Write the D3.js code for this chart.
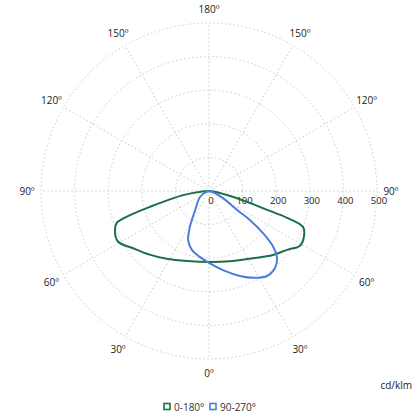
<!DOCTYPE html>
<html><head><meta charset="utf-8">
<script src="https://cdn.jsdelivr.net/npm/d3@7"></script>
<style>body{margin:0;background:#fff;}svg{display:block;font-family:"Open Sans",sans-serif;}</style>
</head><body>
<script>
// Data (signed gamma angle in degrees from nadir; negative = left half), intensity cd/klm
const radialTicks = [0, 100, 200, 300, 400, 500];
const angleTicks = [0, 30, 60, 90, 120, 150, 180];
const seriesNames = ["0-180°", "90-270°"];
const seriesColors = ["#1e6e45", "#4a7de0"];
const greenAngles = [-90, -86, -81, -75, -73, -71, -67.5, -61, -53, -43, -32, -17, 0, 19, 33, 45, 53, 59, 64, 69, 71, 72, 74, 77.5, 84, 90];
const greenValues = [0, 20, 78, 182, 246, 290, 303, 310, 283, 259, 238, 218, 211, 220, 239, 269, 291, 316, 314, 300, 246, 182, 118, 55, 12, 0];
const blueAngles = [-90, -80, -56, -36, -28, -23, -16, -8, 0, 10, 20, 27, 34, 40.5, 45.5, 49, 52, 54.7, 56, 63, 75, 90];
const blueValues = [0, 5, 32, 70, 121, 159, 183, 198, 214, 239, 269, 290, 306, 302, 284, 253, 204, 149, 101, 47, 10, 0];

const W = 420, H = 420, cx = 209, cy = 191, R = 168;
const svg = d3.select("body").append("svg").attr("width", W).attr("height", H);
const r = d3.scaleLinear().domain([0, 500]).range([0, R]);
const g = svg.append("g").attr("transform", `translate(${cx},${cy})`);

const gridColor = "#c8c8c8";
// circles
g.selectAll("circle.grid").data(radialTicks.filter(d => d > 0)).join("circle")
  .attr("r", d => r(d)).attr("fill", "none").attr("stroke", gridColor)
  .attr("stroke-width", 1).attr("stroke-dasharray", "1.5,2.5");
// spokes
const spokes = d3.range(0, 360, 30);
g.selectAll("line.spoke").data(spokes).join("line")
  .attr("x1", 0).attr("y1", 0)
  .attr("x2", d => r(500) * Math.sin(d * Math.PI / 180))
  .attr("y2", d => r(500) * Math.cos(d * Math.PI / 180))
  .attr("stroke", gridColor).attr("stroke-width", 1).attr("stroke-dasharray", "1.5,2.5");

// angle labels
const lab = [];
angleTicks.forEach(a => { lab.push(a); if (a > 0 && a < 180) lab.push(-a); });
const lr = 182;
g.selectAll("text.ang").data(lab).join("text")
  .attr("x", d => lr * Math.sin(d * Math.PI / 180))
  .attr("y", d => lr * Math.cos(d * Math.PI / 180))
  .attr("text-anchor", "middle").attr("dominant-baseline", "central")
  .attr("font-size", 10).attr("fill", "#222")
  .text(d => Math.abs(d) + "º");

// radial tick labels
g.selectAll("text.rt").data(radialTicks).join("text")
  .attr("x", d => r(d) + 2).attr("y", 9)
  .attr("text-anchor", "middle").attr("dominant-baseline", "central")
  .attr("font-size", 9.5).attr("fill", "#222")
  .text(d => d);

// curves
const line = d3.lineRadial()
  .angle(d => Math.PI - d[0] * Math.PI / 180)
  .radius(d => r(d[1]))
  .curve(d3.curveCatmullRom.alpha(0.5));
const series = [
  d3.zip(greenAngles, greenValues),
  d3.zip(blueAngles, blueValues)
];
g.selectAll("path.s").data(series).join("path")
  .attr("d", d => line(d)).attr("fill", "none")
  .attr("stroke", (d, i) => seriesColors[i]).attr("stroke-width", 2)
  .attr("stroke-linejoin", "round");

// unit
svg.append("text").attr("x", 412).attr("y", 385).attr("text-anchor", "end")
  .attr("dominant-baseline", "central").attr("font-size", 10).attr("fill", "#222").text("cd/klm");

// legend
const lg = svg.append("g");
const legX = [164, 210];
seriesNames.forEach((n, i) => {
  lg.append("rect").attr("x", legX[i]).attr("y", 403.5).attr("width", 6).attr("height", 6)
    .attr("fill", "#fff").attr("stroke", seriesColors[i]).attr("stroke-width", 1.6);
  lg.append("text").attr("x", legX[i] + 10).attr("y", 407).attr("dominant-baseline", "central")
    .attr("font-size", 10).attr("fill", "#333").text(n);
});
</script>
</body></html>
